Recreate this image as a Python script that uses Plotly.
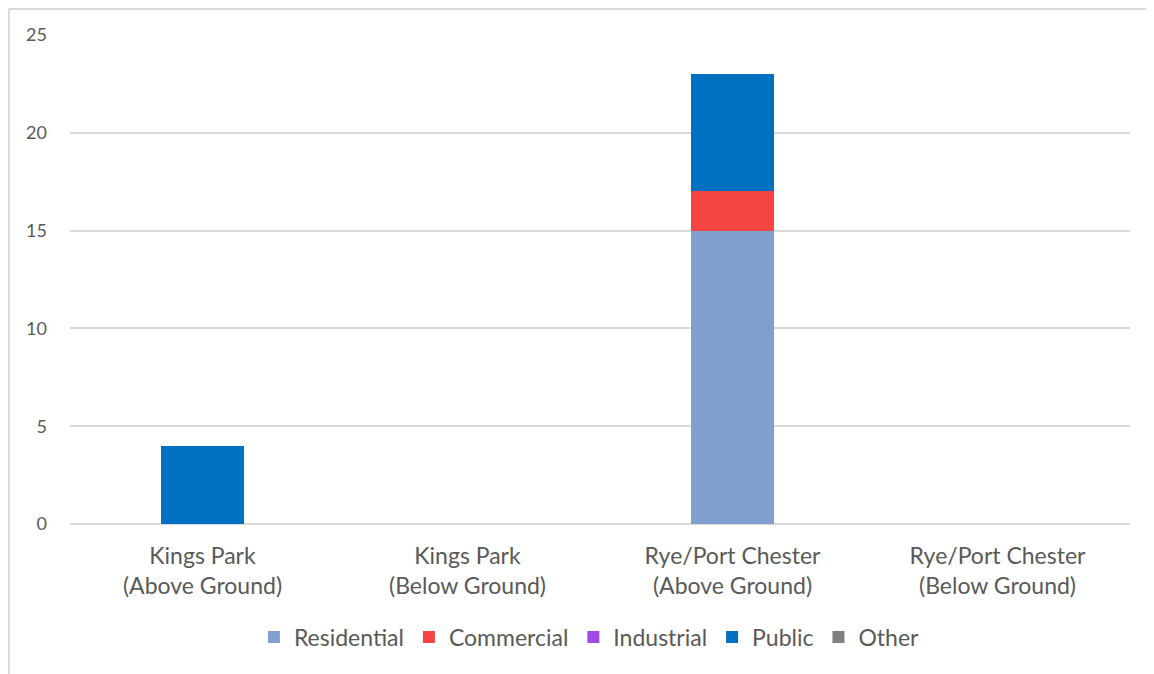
import plotly.graph_objects as go

categories = ["Kings Park<br>(Above Ground)", "Kings Park<br>(Below Ground)",
              "Rye/Port Chester<br>(Above Ground)", "Rye/Port Chester<br>(Below Ground)"]
residential = [0, 0, 15, 0]
commercial = [0, 0, 2, 0]
industrial = [0, 0, 0, 0]
public = [4, 0, 6, 0]
other = [0, 0, 0, 0]

series = [("Residential", residential, "#7F9FCF"),
          ("Commercial", commercial, "#F44444"),
          ("Industrial", industrial, "#A04BE6"),
          ("Public", public, "#0070C0"),
          ("Other", other, "#7F7F7F")]

fig = go.Figure()
for name, vals, color in series:
    fig.add_trace(go.Bar(x=categories, y=vals, name=name, marker_color=color,
                         marker_line_width=0))

font_family = "Lato, 'Open Sans', sans-serif"
fig.update_layout(
    barmode="stack",
    bargap=0.687,
    width=1154, height=674,
    margin=dict(l=62, r=32, t=27, b=158),
    plot_bgcolor="white", paper_bgcolor="white",
    font=dict(family=font_family, color="#595959"),
    yaxis=dict(range=[0, 25], dtick=5, showgrid=True, gridcolor="#D9D9D9", gridwidth=1.5,
               zeroline=True, zerolinecolor="#D9D9D9", zerolinewidth=1.5,
               tickfont=dict(size=18, color="#595959"), ticks="", ticklen=0,
               ticklabelstandoff=22),
    xaxis=dict(tickfont=dict(size=23, color="#595959"), ticks="", showline=False,
               ticklabelstandoff=16),
    legend=dict(orientation="h", x=0.49, xanchor="center", y=-0.231, yanchor="middle",
                font=dict(size=23, color="#595959"), itemwidth=30, traceorder="normal"),
    showlegend=True,
)
fig.add_shape(type="line", xref="paper", yref="paper", x0=-0.0577, x1=-0.0577, y0=1.053, y1=-0.4,
              line=dict(color="#D9D9D9", width=2))
fig.add_shape(type="line", xref="paper", yref="paper", x0=-0.0577, x1=1.05, y0=1.053, y1=1.053,
              line=dict(color="#D9D9D9", width=2))
fig.write_html("out.html")
